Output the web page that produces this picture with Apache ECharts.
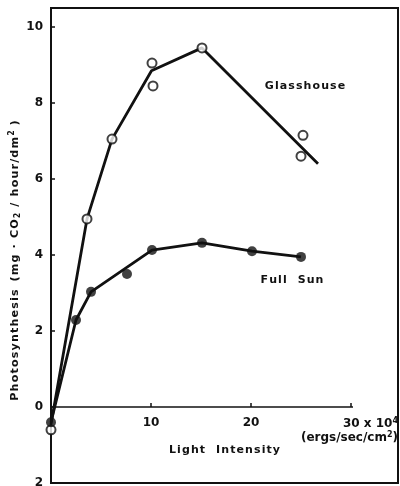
<!DOCTYPE html>
<html>
<head>
<meta charset="utf-8">
<script src="https://cdn.jsdelivr.net/npm/echarts@6/dist/echarts.min.js"></script>
<style>
  html, body { margin: 0; padding: 0; background: #fff; }
  #chart { width: 400px; height: 486px; }
</style>
</head>
<body>
<div id="chart"></div>
<script>
// points (x = light intensity x10^4, y = photosynthesis)
const glassPoints = [[0, -0.6], [3.6, 4.95], [6.1, 7.05], [10.1, 9.05], [10.2, 8.45], [15.1, 9.45], [25.2, 7.15], [25, 6.6]]
const glassLine = [[0, -0.45], [3.6, 4.95], [6.1, 7.05], [10.05, 8.85], [15.1, 9.45], [26.7, 6.4]]
const sunPoints = [[0, -0.4], [2.5, 2.29], [4.0, 3.03], [7.6, 3.5], [10.1, 4.13], [15.1, 4.32], [20.1, 4.1], [25, 3.95]]
const sunLine = [[0, -0.4], [2.5, 2.29], [4.0, 3.03], [10.1, 4.13], [15.1, 4.32], [20.1, 4.1], [25, 3.95]]
const xAxisLine = [[0, 0], [30.2, 0]]
const xTickValues = [10, 20]
const yTickLabels = { 10: '10', 8: '8', 6: '6', 4: '4', 2: '2', 0: '0', '-2': '2' }

const font = 'DejaVu Sans'
const spaced = s => s.split('').join('\u200A')

const chart = echarts.init(document.getElementById('chart'))

const boldText = { fontSize: 12, fontWeight: 'bold', color: '#111', fontFamily: font }

// x labels are drawn on the zero line as mark labels
const xAxisTexts = xTickValues.map(v => ({
  coord: [v, 0],
  label: { formatter: String(v), offset: [0, 10] }
}))
xAxisTexts.push({
  coord: [17.35, 0],
  label: { formatter: spaced('Light  Intensity'), offset: [0, 38], fontSize: 11 }
})
xAxisTexts.push({
  coord: [30, 0],
  label: {
    formatter: '{a|30 x 10}{s|4}\n{a|(ergs/sec/cm}{s|2}{a|)}',
    align: 'right',
    offset: [47, 10],
    lineHeight: 14,
    rich: {
      a: boldText,
      s: { fontSize: 8, fontWeight: 'bold', color: '#111', fontFamily: font, verticalAlign: 'top', padding: [0, 0, 5, 0] }
    }
  }
})

const option = {
  animation: false,
  backgroundColor: '#fff',
  textStyle: { fontFamily: font, color: '#111' },
  grid: {
    left: 51, right: 2, top: 8, bottom: 3,
    outerBoundsMode: 'none',
    containLabel: false,
    show: true,
    borderColor: '#111',
    borderWidth: 2
  },
  xAxis: {
    type: 'value',
    min: 0,
    max: 34.7,
    interval: 10,
    splitLine: { show: false },
    axisLine: { show: true, onZero: true, lineStyle: { color: 'rgba(0,0,0,0)' } },
    axisTick: { show: true, inside: true, length: 4, lineStyle: { color: '#111', width: 1.5 } },
    axisLabel: { show: false }
  },
  yAxis: {
    type: 'value',
    min: -2,
    max: 10.5,
    interval: 2,
    splitLine: { show: false },
    axisLine: { show: true, onZero: false, lineStyle: { color: '#111', width: 2 } },
    axisTick: { show: true, inside: true, length: 4, lineStyle: { color: '#111', width: 1.5 } },
    axisLabel: {
      margin: 8,
      fontSize: 12,
      fontWeight: 'bold',
      color: '#111',
      formatter: v => yTickLabels[v] || ''
    },
    // trailing gap token pushes the title a little lower, as in the figure
    name: '{t|' + spaced('Photosynthesis') + '  ' + spaced('(mg · CO') + '}{sub|2}{t|' + spaced(' / hour/dm') + '}{sup|2}{t| )}{gap|}',
    nameLocation: 'middle',
    nameGap: 29,
    nameMoveOverlap: false,
    nameTextStyle: {
      rich: {
        t: { fontSize: 11.2, fontWeight: 'bold', color: '#111', fontFamily: font },
        sub: { fontSize: 8, fontWeight: 'bold', color: '#111', fontFamily: font, verticalAlign: 'bottom', padding: [6, 1, 0, 1] },
        sup: { fontSize: 8, fontWeight: 'bold', color: '#111', fontFamily: font, verticalAlign: 'top', padding: [0, 1, 6, 1] },
        gap: { width: 30 }
      }
    }
  },
  series: [
    {
      // x axis drawn only up to 30
      name: 'axis',
      type: 'line',
      data: xAxisLine,
      symbol: 'none',
      silent: true,
      lineStyle: { color: '#111', width: 1.5 },
      markPoint: {
        symbol: 'circle',
        symbolSize: 0,
        data: xAxisTexts,
        label: {
          show: true,
          position: 'inside',
          verticalAlign: 'top',
          ...boldText
        }
      }
    },
    {
      name: 'Glasshouse line',
      type: 'line',
      data: glassLine,
      symbol: 'none',
      lineStyle: { color: '#111', width: 2.8 },
      markPoint: {
        symbol: 'circle',
        symbolSize: 0,
        data: [{ coord: [25.4, 8.45] }],
        label: {
          show: true,
          position: 'inside',
          formatter: spaced('Glasshouse'),
          fontSize: 11,
          fontWeight: 'bold',
          color: '#111'
        }
      }
    },
    {
      name: 'Full Sun line',
      type: 'line',
      data: sunLine,
      symbol: 'none',
      lineStyle: { color: '#111', width: 2.8 },
      markPoint: {
        symbol: 'circle',
        symbolSize: 0,
        data: [{ coord: [24.1, 3.34] }],
        label: {
          show: true,
          position: 'inside',
          formatter: spaced('Full  Sun'),
          fontSize: 11,
          fontWeight: 'bold',
          color: '#111'
        }
      }
    },
    {
      name: 'Glasshouse',
      type: 'scatter',
      data: glassPoints,
      symbol: 'circle',
      symbolSize: 9,
      itemStyle: { color: '#fff', borderColor: '#111', borderWidth: 2 },
      z: 3
    },
    {
      name: 'Full Sun',
      type: 'scatter',
      data: sunPoints,
      symbol: 'circle',
      symbolSize: 10,
      itemStyle: { color: '#111' },
      z: 3
    }
  ]
}

chart.setOption(option)
</script>
</body>
</html>
